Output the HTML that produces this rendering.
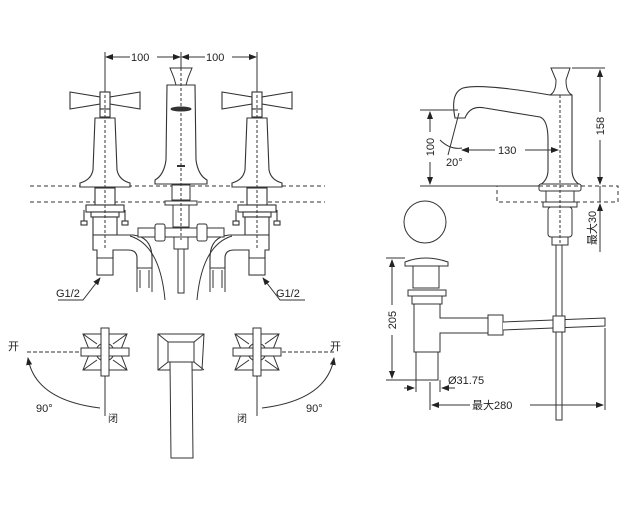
<!DOCTYPE html>
<html><head><meta charset="utf-8"><style>
html,body{margin:0;padding:0;background:#fff;}
svg{display:block;}
text{font-family:"Liberation Sans","Noto Sans CJK SC",sans-serif;fill:#222;}
</style></head><body>
<svg width="624" height="520" viewBox="0 0 624 520" xmlns="http://www.w3.org/2000/svg">
<defs>
<marker id="a" markerWidth="8" markerHeight="6" refX="7" refY="3" orient="auto"><path d="M0,0 L8,3 L0,6 z" fill="#222"/></marker>
<g id="handle" fill="#fff" stroke="#333" stroke-width="1.1">
  <path d="M-35,-13 L-5,-8 L-5,-1 L-35,4 Z"/>
  <path d="M35,-13 L5,-8 L5,-1 L35,4 Z"/>
  <rect x="-5" y="-13" width="10" height="17"/>
  <rect x="-5" y="4" width="10" height="8"/>
  <path d="M-10,13 L10,13 L12,65 Q14,75 25,78 L25,82 L-25,82 L-25,78 Q-14,75 -12,65 Z"/>
  <rect x="-10" y="83" width="20" height="17"/>
  <rect x="-19" y="100" width="38" height="7"/>
  <rect x="-14" y="107" width="28" height="5"/>
  <line x1="-21" y1="105" x2="-21" y2="117"/><rect x="-24" y="116" width="6" height="4"/>
  <line x1="20" y1="105" x2="20" y2="117"/><rect x="17" y="116" width="6" height="4"/>
  <rect x="-12" y="112" width="24" height="18"/>
  <rect x="-8" y="153" width="16" height="17"/>
</g>
<g id="cross" fill="#fff" stroke="#333" stroke-width="1">
  <path d="M-22,-18 L22,-18 L15,0 L22,18 L-22,18 L-15,0 Z"/>
  <path d="M-22,-18 L-8,-8 M22,-18 L8,-8 M-22,18 L-8,8 M22,18 L8,8" fill="none"/>
  <circle r="9" fill="none"/>
  <rect x="-24" y="-4" width="48" height="8"/>
  <rect x="-4" y="-24" width="8" height="48"/>
</g>
</defs>
<g stroke="#333" stroke-width="1" fill="none">
<line x1="105" y1="52" x2="105" y2="95"/><line x1="181" y1="52" x2="181" y2="68"/><line x1="257" y1="52" x2="257" y2="95"/>
<line x1="130" y1="57" x2="106" y2="57" marker-end="url(#a)"/><line x1="157" y1="57" x2="180" y2="57" marker-end="url(#a)"/>
<line x1="205" y1="57" x2="182" y2="57" marker-end="url(#a)"/><line x1="232" y1="57" x2="256" y2="57" marker-end="url(#a)"/>
<line x1="30" y1="186" x2="325" y2="186" stroke-dasharray="4,3"/>
<line x1="30" y1="202" x2="325" y2="202" stroke-dasharray="4,3"/>
<use href="#handle" x="105" y="105"/>
<use href="#handle" x="257" y="105"/>
<path d="M93,235 L133,235 Q152,237 152,258 L152,268 L137,268 L137,258 Q137,250 128,250 L113,250 L113,258 L97,258 L97,250 L93,250 Z" fill="#fff" stroke-width="1.1"/>
<path d="M269,235 L229,235 Q210,237 210,258 L210,268 L225,268 L225,258 Q225,250 234,250 L249,250 L249,258 L265,258 L265,250 L269,250 Z" fill="#fff" stroke-width="1.1"/>
<rect x="97" y="258" width="16" height="17" fill="#fff"/><rect x="249" y="258" width="16" height="17" fill="#fff"/>
<path d="M137,268 L137,292 M152,268 L152,292 M140,270 L140,288 M149,270 L149,288"/>
<path d="M210,268 L210,292 M225,268 L225,292 M213,270 L213,288 M222,270 L222,288"/>
<path d="M130,236 Q160,245 165,300 M232,236 Q202,245 197,300"/>
<path d="M170,68 L192,68 L188,78 L186,85 L176,85 L174,78 Z" fill="#fff"/>
<path d="M167,85 L195,85 L196,160 Q198,175 207,180 L207,184 L155,184 L155,180 Q164,175 166,160 Z" fill="#fff" stroke-width="1.1"/>
<ellipse cx="181" cy="109" rx="10" ry="2" fill="#333"/>
<line x1="177" y1="166" x2="185" y2="166" stroke-width="2"/>
<rect x="172" y="185" width="18" height="15" fill="#fff"/>
<rect x="165" y="201" width="32" height="4" fill="#fff"/>
<rect x="173" y="205" width="16" height="22" fill="#fff"/>
<rect x="138" y="228" width="86" height="9" fill="#fff"/>
<rect x="155" y="224" width="10" height="17" rx="2" fill="#fff"/><rect x="197" y="224" width="10" height="17" rx="2" fill="#fff"/>
<rect x="174" y="237" width="14" height="12" fill="#fff"/>
<rect x="178" y="249" width="6" height="44" fill="#fff"/>
<line x1="181" y1="68" x2="181" y2="240" stroke-dasharray="3,2"/>
<line x1="105" y1="95" x2="105" y2="250" stroke-dasharray="3,2"/>
<line x1="257" y1="95" x2="257" y2="250" stroke-dasharray="3,2"/>
<path d="M58,300 L83,300 L100,278" marker-end="url(#a)"/>
<path d="M305,300 L280,300 L263,278" marker-end="url(#a)"/>
<use href="#cross" x="105" y="352"/>
<use href="#cross" x="257" y="352"/>
<line x1="27" y1="352" x2="80" y2="352" stroke-dasharray="4,2"/>
<line x1="282" y1="352" x2="335" y2="352" stroke-dasharray="4,2"/>
<line x1="105" y1="376" x2="105" y2="416"/><line x1="257" y1="376" x2="257" y2="416"/>
<path d="M100,408 Q35,400 28,358" marker-end="url(#a)"/>
<path d="M262,408 Q327,400 334,358" marker-end="url(#a)"/>
<path d="M158,334 L204,334 L202,370 L158,370 Z" fill="#fff"/>
<path d="M158,334 L168,342 L194,342 L204,334 M158,370 L168,362 M204,370 L194,362" />
<rect x="168" y="342" width="26" height="20"/>
<path d="M170,362 L192,362 L193,458 L171,458 Z" fill="#fff"/>
<path d="M550,95 Q480,83 463,88 Q450,93 455,118 L465,118 Q470,105 485,108 L540,117 Q548,120 548,140 L548,170 Q548,180 540,185 L580,185 Q572,180 572,170 L572,95 Z" fill="#fff" stroke-width="1.1"/>
<path d="M551,68 L570,68 L566,80 Q566,92 572,95 L550,95 Q556,92 556,80 Z" fill="#fff"/>
<rect x="539" y="184" width="42" height="7" rx="2" fill="#fff"/>
<rect x="546" y="191" width="28" height="11" fill="#fff"/>
<rect x="543" y="202" width="34" height="5" fill="#fff"/>
<rect x="548" y="207" width="24" height="30" rx="3" fill="#fff"/>
<rect x="552" y="237" width="16" height="8" fill="#fff"/>
<rect x="556" y="245" width="6" height="175" fill="#fff"/>
<line x1="560" y1="95" x2="560" y2="245" stroke-dasharray="3,2"/>
<rect x="497" y="186" width="121" height="16" stroke-dasharray="4,3"/>
<line x1="572" y1="68" x2="605" y2="68"/><line x1="600" y1="112" x2="600" y2="70" marker-end="url(#a)"/><line x1="600" y1="140" x2="600" y2="184" marker-end="url(#a)"/>
<line x1="600" y1="186" x2="600" y2="202"/><line x1="600" y1="252" x2="600" y2="204" marker-end="url(#a)"/>
<line x1="420" y1="110" x2="458" y2="110"/><line x1="420" y1="186" x2="540" y2="186"/>
<line x1="430" y1="132" x2="430" y2="112" marker-end="url(#a)"/><line x1="430" y1="162" x2="430" y2="184" marker-end="url(#a)"/>
<line x1="495" y1="150" x2="462" y2="150" marker-end="url(#a)"/><line x1="525" y1="150" x2="558" y2="150" marker-end="url(#a)"/>
<path d="M459,113 L448,155"/><path d="M440,140 Q450,150 462,148"/>
<circle cx="425" cy="222" r="21"/>
<path d="M405,262 Q425,254 448,262 L448,266 L405,266 Z" fill="#fff"/>
<rect x="413" y="266" width="26" height="22" fill="#fff"/>
<path d="M408,290 L446,290 L446,296 L408,296 Z" fill="#fff"/>
<rect x="412" y="296" width="30" height="8" fill="#fff"/>
<path d="M414,304 L440,304 L440,318 L488,318 L488,333 L440,333 L440,352 L414,352 Z" fill="#fff"/>
<rect x="488" y="315" width="15" height="20" fill="#fff"/>
<path d="M503,322 L605,318 L605,326 L503,330" fill="#fff"/>
<rect x="553" y="316" width="12" height="16" fill="#fff"/>
<path d="M416,352 L438,352 L438,380 L416,380 Z" fill="#fff"/>
<line x1="386" y1="258" x2="405" y2="258"/><line x1="386" y1="380" x2="416" y2="380"/>
<line x1="392" y1="305" x2="392" y2="260" marker-end="url(#a)"/><line x1="392" y1="335" x2="392" y2="378" marker-end="url(#a)"/>
<line x1="416" y1="380" x2="416" y2="392"/><line x1="440" y1="380" x2="440" y2="392"/>
<line x1="404" y1="388" x2="414" y2="388" marker-end="url(#a)"/><line x1="455" y1="388" x2="442" y2="388" marker-end="url(#a)"/>
<line x1="430" y1="382" x2="430" y2="410"/><line x1="605" y1="328" x2="605" y2="410"/>
<line x1="470" y1="405" x2="432" y2="405" marker-end="url(#a)"/><line x1="530" y1="405" x2="603" y2="405" marker-end="url(#a)"/>
</g>
<g font-size="11">
<text x="131" y="61">100</text><text x="206" y="61">100</text>
<text x="56" y="297">G1/2</text><text x="276" y="297">G1/2</text>
<text x="8" y="350">开</text><text x="330" y="350">开</text>
<text x="36" y="412">90°</text><text x="306" y="412">90°</text>
<text x="108" y="422" font-size="10">闭</text><text x="237" y="422" font-size="10">闭</text>
<text x="498" y="154">130</text>
<text x="446" y="166">20°</text>
<text x="434" y="147" transform="rotate(-90 434 147)" text-anchor="middle">100</text>
<text x="604" y="126" transform="rotate(-90 604 126)" text-anchor="middle">158</text>
<text x="596" y="228" transform="rotate(-90 596 228)" text-anchor="middle">最大30</text>
<text x="396" y="320" transform="rotate(-90 396 320)" text-anchor="middle">205</text>
<text x="448" y="384">Ø31.75</text>
<text x="472" y="409">最大280</text>
</g>
</svg>
</body></html>
